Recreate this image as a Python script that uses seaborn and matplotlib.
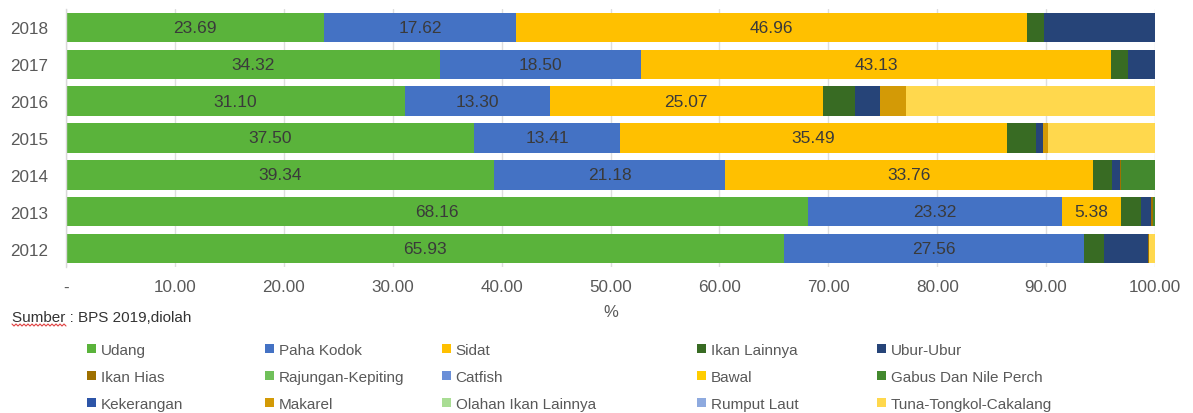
import numpy as np
import pandas as pd
import matplotlib
matplotlib.use("Agg")
import matplotlib.pyplot as plt
from matplotlib.patches import Patch
from matplotlib.lines import Line2D
import seaborn as sns

years = ["2018", "2017", "2016", "2015", "2014", "2013", "2012"]

categories = ["Udang", "Paha Kodok", "Sidat", "Ikan Lainnya", "Ubur-Ubur",
              "Ikan Hias", "Rajungan-Kepiting", "Catfish", "Bawal", "Gabus Dan Nile Perch",
              "Kekerangan", "Makarel", "Olahan Ikan Lainnya", "Rumput Laut", "Tuna-Tongkol-Cakalang"]

colors = ["#5ab33b", "#4472c4", "#ffc000", "#386b23", "#264478",
          "#9e7000", "#70c05a", "#6a8fd8", "#ffcd00", "#43892e",
          "#2d55a8", "#d39a06", "#a9dd94", "#8eaadf", "#ffd84d"]

# values per year (order: 2018 ... 2012)
udang        = [23.69, 34.32, 31.10, 37.50, 39.34, 68.16, 65.93]
paha_kodok   = [17.62, 18.50, 13.30, 13.41, 21.18, 23.32, 27.56]
sidat        = [46.96, 43.13, 25.07, 35.49, 33.76, 5.38, 0.00]
ikan_lainnya = [1.50, 1.55, 3.00, 2.65, 1.75, 1.83, 1.85]
ubur_ubur    = [10.23, 2.50, 2.30, 0.67, 0.76, 0.97, 4.05]
ikan_hias    = [0.00, 0.00, 0.00, 0.00, 0.10, 0.18, 0.10]
rajungan     = [0.00, 0.00, 0.00, 0.00, 0.00, 0.00, 0.00]
catfish      = [0.00, 0.00, 0.00, 0.00, 0.00, 0.00, 0.00]
bawal        = [0.00, 0.00, 0.00, 0.00, 0.00, 0.00, 0.00]
gabus        = [0.00, 0.00, 0.00, 0.00, 3.11, 0.16, 0.00]
kekerangan   = [0.00, 0.00, 0.00, 0.00, 0.00, 0.00, 0.00]
makarel      = [0.00, 0.00, 2.40, 0.50, 0.00, 0.00, 0.00]
olahan       = [0.00, 0.00, 0.00, 0.00, 0.00, 0.00, 0.00]
rumput_laut  = [0.00, 0.00, 0.00, 0.00, 0.00, 0.00, 0.00]
tuna         = [0.00, 0.00, 22.83, 9.78, 0.00, 0.00, 0.51]

series = [udang, paha_kodok, sidat, ikan_lainnya, ubur_ubur,
          ikan_hias, rajungan, catfish, bawal, gabus,
          kekerangan, makarel, olahan, rumput_laut, tuna]

labelled = 3  # data labels only on the first three series

df = pd.DataFrame({c: v for c, v in zip(categories, series)}, index=years)
cum = df.cumsum(axis=1)

sns.set_theme(style="white")
plt.rcParams["font.family"] = ["Liberation Sans", "DejaVu Sans"]

fig = plt.figure(figsize=(11.93, 4.14), dpi=100)
ax = fig.add_axes([66 / 1193, 1 - 268 / 414, (1155 - 66) / 1193, (268 - 10) / 414])

# draw stacked bars: from the full cumulative down to the first series
for i in range(len(categories) - 1, -1, -1):
    cdf = pd.DataFrame({"year": years, "total": cum[categories[i]].values})
    sns.barplot(data=cdf, x="total", y="year", order=years, color=colors[i],
                saturation=1, width=0.8, linewidth=0, ax=ax, zorder=2)

# data labels
for i in range(labelled):
    c = categories[i]
    for j, y in enumerate(years):
        v = df.loc[y, c]
        if v > 0:
            center = cum.loc[y, c] - v / 2
            ax.text(center, j, f"{v:.2f}", ha="center", va="center",
                    fontsize=12.5, color="#3a3a3a", zorder=5)

ax.set_xlim(0, 100)
ax.set_xticks(np.arange(0, 101, 10))
ax.set_xticklabels(["-"] + [f"{t:.2f}" for t in np.arange(10, 101, 10)])
ax.set_xlabel("%", fontsize=12, color="#595959", labelpad=7)
ax.set_ylabel("")
ax.xaxis.grid(True, color="#dedede", linewidth=1, zorder=0)
ax.set_axisbelow(True)
ax.tick_params(axis="x", length=0, pad=9, labelsize=12.3, labelcolor="#595959")
ax.tick_params(axis="y", length=0, pad=13, labelsize=12.3, labelcolor="#595959")
for s in ["top", "right", "bottom"]:
    ax.spines[s].set_visible(False)
ax.spines["left"].set_color("#d9d9d9")
ax.spines["left"].set_linewidth(1)

fig.text(12 / 1193, 1 - 318 / 414, "Sumber : BPS 2019,diolah", fontsize=11,
         color="#333333", ha="left", va="center")
# spell-check style wavy underline under "Sumber"
wx = np.linspace(12, 66, 28)
wy = 326 + np.where(np.arange(28) % 2 == 0, -1.0, 1.0)
fig.add_artist(Line2D(wx / 1193, 1 - wy / 414, color="#e04040", linewidth=0.8,
                      transform=fig.transFigure))

# legend: five columns of three rows, placed individually
col_x = [87, 265, 442, 697, 877]
for j in range(5):
    hs = [Patch(facecolor=colors[j + 5 * r], edgecolor="none", label=categories[j + 5 * r])
          for r in range(3)]
    fig.legend(handles=hs, loc="upper left",
               bbox_to_anchor=(col_x[j] / 1193, 1 - 344 / 414),
               frameon=False, fontsize=11, labelcolor="#595959",
               handlelength=0.6, handleheight=0.6, handletextpad=0.3,
               labelspacing=0.85, borderpad=0, borderaxespad=0)

fig.savefig("out.png", dpi=100)
